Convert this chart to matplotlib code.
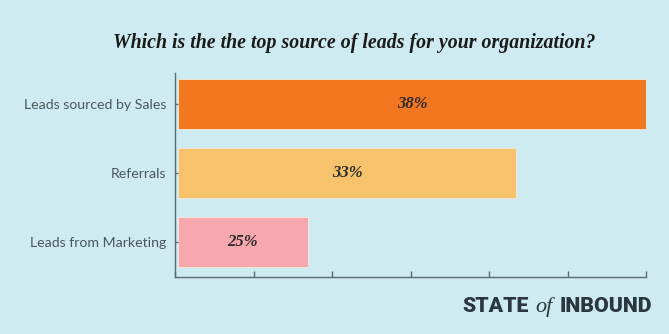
import numpy as np
import matplotlib.pyplot as plt
from matplotlib.offsetbox import TextArea, HPacker, AnchoredOffsetbox

# survey answers, top bar first
categories = ['Leads sourced by Sales', 'Referrals', 'Leads from Marketing']
values = [38, 33, 25]
colors = ['#F37721', '#F6C26B', '#F7A8AE']
x_range = (20, 38)

bg = '#CDEBF0'
axis_color = '#5C6B70'
label_color = '#4B585C'

fig = plt.figure(figsize=(6.69, 3.34), dpi=100, facecolor=bg)
ax = fig.add_axes([175 / 669, 0.1707, 471 / 669, 0.6108])
ax.set_facecolor(bg)

x_left = x_range[0]
y_pos = np.arange(len(categories))[::-1]
ax.barh(y_pos, np.array(values) - x_left, left=x_left, height=0.725,
        color=colors, edgecolor='#F5E9DA', linewidth=0.6)

for y, v in zip(y_pos, values):
    ax.text((x_left + v) / 2, y, f'{v}%', ha='center', va='center',
            fontsize=12, style='italic', fontweight='bold',
            family='Liberation Serif', color='#2B2B2B')

# small gap between the axis line and the start of the bars
ax.set_xlim(x_left - 0.115, x_range[1])
ax.set_ylim(-0.507, 2.449)
ax.set_xticks(np.linspace(*ax.get_xlim(), 7))
ax.set_xticklabels([])
ax.set_yticks(y_pos)
ax.set_yticklabels(categories, family='Lato', fontsize=10.2)

for side in ['top', 'right']:
    ax.spines[side].set_visible(False)
for side in ['left', 'bottom']:
    ax.spines[side].set_color(axis_color)
    ax.spines[side].set_linewidth(1.0)
ax.tick_params(axis='x', direction='in', length=4, width=1, color=axis_color)
ax.tick_params(axis='y', direction='in', length=2.5, width=1, color=axis_color,
               pad=6, labelcolor=label_color)

fig.text(0.53, 1 - 43 / 334, 'Which is the the top source of leads for your organization?',
         ha='center', va='center', fontsize=14.3, style='italic', fontweight='bold',
         family='Liberation Serif', color='#1A1A1A')

# wordmark in the bottom right corner
logo_color = '#2A373C'
parts = [
    TextArea('STATE', textprops=dict(family='Roboto', fontweight='black', fontsize=15.3, color=logo_color)),
    TextArea('of', textprops=dict(family='Liberation Serif', style='italic', fontsize=16, color=logo_color)),
    TextArea('INBOUND', textprops=dict(family='Roboto', fontweight='black', fontsize=15.3, color=logo_color)),
]
logo = HPacker(children=parts, align='baseline', pad=0, sep=5)
box = AnchoredOffsetbox(loc='center right', child=logo, frameon=False,
                        bbox_to_anchor=(652 / 669, 1 - 307 / 334),
                        bbox_transform=fig.transFigure, borderpad=0, pad=0)
fig.add_artist(box)

fig.savefig('out.png', dpi=100, facecolor=bg)
